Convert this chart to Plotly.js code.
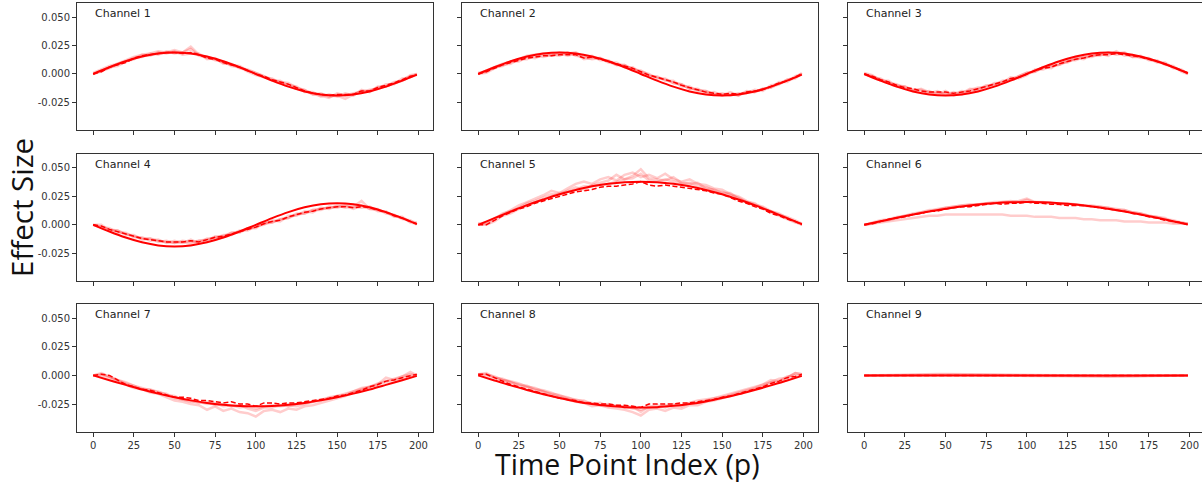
<!DOCTYPE html>
<html><head><meta charset="utf-8">
<script src="https://cdn.plot.ly/plotly-3.0.1.min.js"></script>
<style>html,body{margin:0;padding:0;background:#fff}#chart{width:1202px;height:483px}</style>
</head><body><div id="chart"></div>
<script>
// ---- data ----
const TIME_POINTS = [0,5,10,15,20,25,30,35,40,45,50,55,60,65,70,75,80,85,90,95,100,105,110,115,120,125,130,135,140,145,150,155,160,165,170,175,180,185,190,195,199];
const TIME_POINTS_TRUE = [0,10,20,30,40,50,60,70,80,90,100,110,120,130,140,150,160,170,180,190,199];
const CHANNEL_LABELS = ["Channel 1","Channel 2","Channel 3","Channel 4","Channel 5","Channel 6","Channel 7","Channel 8","Channel 9"];
const X_TICK_VALUES = [0,25,50,75,100,125,150,175,200];
const X_TICK_LABELS = ["0","25","50","75","100","125","150","175","200"];
const Y_TICK_VALUES = [-0.025,0,0.025,0.05];
const Y_TICK_LABELS = ["-0.025","0.000","0.025","0.050"];

const CH1_TRUE = [0,0.0059,0.0112,0.0154,0.0181,0.0190,0.0181,0.0154,0.0112,0.0059,0,-0.0059,-0.0112,-0.0154,-0.0181,-0.0190,-0.0181,-0.0154,-0.0112,-0.0059,-0.0006];
const CH1_MEAN = [0.000,0.002,0.006,0.008,0.010,0.014,0.016,0.017,0.018,0.019,
  0.019,0.018,0.019,0.017,0.014,0.013,0.010,0.008,0.006,0.003,
  0.000,-0.002,-0.005,-0.007,-0.009,-0.012,-0.015,-0.017,-0.018,-0.019,
  -0.018,-0.018,-0.018,-0.015,-0.015,-0.012,-0.010,-0.008,-0.005,-0.002,-0.001];
const CH1_RUN_A = [0.001,0.004,0.007,0.009,0.012,0.015,0.017,0.018,0.020,0.019,
  0.021,0.019,0.022,0.016,0.015,0.012,0.011,0.007,0.006,0.002,
  -0.001,-0.003,-0.004,-0.008,-0.010,-0.013,-0.014,-0.018,-0.019,-0.021,
  -0.017,-0.019,-0.017,-0.016,-0.014,-0.013,-0.009,-0.009,-0.004,-0.003,0.000];
const CH1_RUN_B = [0.000,0.003,0.005,0.009,0.011,0.013,0.017,0.016,0.019,0.018,
  0.020,0.017,0.018,0.018,0.013,0.014,0.009,0.009,0.005,0.004,
  0.001,-0.002,-0.006,-0.006,-0.010,-0.011,-0.016,-0.016,-0.020,-0.018,
  -0.020,-0.017,-0.019,-0.014,-0.016,-0.011,-0.011,-0.007,-0.006,-0.001,0.000];
const CH1_RUN_C = [0.000,0.002,0.006,0.007,0.011,0.014,0.015,0.018,0.017,0.020,
  0.018,0.019,0.024,0.017,0.014,0.013,0.010,0.008,0.007,0.003,
  0.001,-0.002,-0.005,-0.007,-0.008,-0.012,-0.014,-0.018,-0.017,-0.020,
  -0.019,-0.022,-0.018,-0.015,-0.015,-0.012,-0.011,-0.008,-0.006,-0.002,-0.001];

const CH2_TRUE = [0,0.0059,0.0112,0.0154,0.0181,0.0190,0.0181,0.0154,0.0112,0.0059,0,-0.0059,-0.0112,-0.0154,-0.0181,-0.0190,-0.0181,-0.0154,-0.0112,-0.0059,-0.0006];
const CH2_MEAN = [0.000,0.002,0.005,0.008,0.010,0.012,0.014,0.015,0.016,0.016,
  0.017,0.017,0.017,0.014,0.015,0.013,0.011,0.009,0.007,0.005,
  0.002,-0.001,-0.003,-0.005,-0.007,-0.010,-0.012,-0.014,-0.016,-0.017,
  -0.018,-0.017,-0.018,-0.016,-0.015,-0.014,-0.011,-0.008,-0.006,-0.003,0.000];
const CH2_RUN_A = [0.000,0.003,0.006,0.009,0.011,0.013,0.016,0.017,0.018,0.017,
  0.019,0.018,0.019,0.015,0.016,0.012,0.012,0.008,0.008,0.004,
  0.002,0.000,-0.004,-0.004,-0.008,-0.009,-0.013,-0.013,-0.017,-0.016,
  -0.019,-0.016,-0.019,-0.015,-0.016,-0.013,-0.012,-0.007,-0.007,-0.002,0.000];
const CH2_RUN_B = [0.001,0.002,0.006,0.007,0.011,0.011,0.015,0.014,0.017,0.016,
  0.018,0.016,0.018,0.013,0.014,0.014,0.010,0.010,0.006,0.006,
  0.001,-0.002,-0.002,-0.006,-0.006,-0.011,-0.011,-0.015,-0.015,-0.018,
  -0.017,-0.019,-0.017,-0.017,-0.014,-0.015,-0.010,-0.009,-0.005,-0.004,0.001];
const CH2_RUN_C = [0.000,0.001,0.005,0.008,0.009,0.013,0.013,0.016,0.015,0.017,
  0.016,0.019,0.016,0.015,0.013,0.014,0.011,0.008,0.008,0.004,
  0.003,-0.001,-0.003,-0.005,-0.008,-0.009,-0.013,-0.014,-0.015,-0.018,
  -0.018,-0.018,-0.019,-0.016,-0.016,-0.013,-0.012,-0.009,-0.005,-0.003,0.000];

const CH3_TRUE = [0,-0.0059,-0.0112,-0.0154,-0.0181,-0.0190,-0.0181,-0.0154,-0.0112,-0.0059,0,0.0059,0.0112,0.0154,0.0181,0.0190,0.0181,0.0154,0.0112,0.0059,0.0006];
const CH3_MEAN = [0.000,-0.002,-0.005,-0.007,-0.010,-0.012,-0.013,-0.015,-0.016,-0.016,
  -0.016,-0.017,-0.016,-0.015,-0.013,-0.011,-0.009,-0.007,-0.004,-0.003,
  0.000,0.003,0.005,0.006,0.009,0.011,0.013,0.014,0.016,0.017,
  0.017,0.018,0.017,0.016,0.015,0.013,0.011,0.009,0.006,0.003,0.001];
const CH3_RUN_A = [0.000,-0.003,-0.004,-0.008,-0.009,-0.013,-0.014,-0.016,-0.015,-0.018,
  -0.015,-0.019,-0.017,-0.013,-0.014,-0.010,-0.010,-0.006,-0.005,-0.002,
  0.001,0.002,0.006,0.005,0.010,0.010,0.014,0.013,0.017,0.016,
  0.019,0.017,0.018,0.015,0.016,0.012,0.012,0.008,0.007,0.002,0.000];
const CH3_RUN_B = [0.001,-0.001,-0.006,-0.006,-0.011,-0.011,-0.014,-0.014,-0.017,-0.015,
  -0.018,-0.016,-0.018,-0.014,-0.012,-0.012,-0.008,-0.008,-0.003,-0.004,
  -0.001,0.004,0.004,0.007,0.008,0.012,0.012,0.015,0.015,0.018,
  0.016,0.020,0.016,0.017,0.014,0.014,0.010,0.010,0.005,0.004,0.000];
const CH3_RUN_C = [0.000,-0.002,-0.005,-0.008,-0.010,-0.011,-0.015,-0.013,-0.016,-0.017,
  -0.017,-0.018,-0.015,-0.016,-0.013,-0.011,-0.009,-0.007,-0.005,-0.002,
  0.001,0.002,0.006,0.007,0.008,0.011,0.014,0.015,0.016,0.017,
  0.018,0.018,0.019,0.015,0.015,0.013,0.011,0.009,0.006,0.003,0.001];

const CH4_TRUE = [0,-0.0059,-0.0112,-0.0154,-0.0181,-0.0190,-0.0181,-0.0154,-0.0112,-0.0059,0,0.0059,0.0112,0.0154,0.0181,0.0190,0.0181,0.0154,0.0112,0.0059,0.0006];
const CH4_MEAN = [0.000,-0.001,-0.004,-0.006,-0.008,-0.010,-0.012,-0.013,-0.014,-0.015,
  -0.015,-0.015,-0.014,-0.015,-0.013,-0.011,-0.010,-0.008,-0.006,-0.004,
  -0.002,0.001,0.003,0.004,0.007,0.009,0.011,0.012,0.014,0.015,
  0.016,0.016,0.015,0.016,0.015,0.013,0.011,0.008,0.006,0.003,0.001];
const CH4_RUN_A = [0.000,-0.002,-0.003,-0.007,-0.007,-0.011,-0.011,-0.014,-0.013,-0.016,
  -0.014,-0.016,-0.013,-0.016,-0.012,-0.012,-0.009,-0.009,-0.005,-0.005,
  -0.001,0.000,0.004,0.003,0.008,0.008,0.012,0.011,0.015,0.014,
  0.017,0.015,0.016,0.015,0.016,0.012,0.012,0.007,0.007,0.002,0.001];
const CH4_RUN_B = [0.000,0.000,-0.005,-0.005,-0.009,-0.009,-0.013,-0.012,-0.015,-0.014,
  -0.016,-0.014,-0.015,-0.014,-0.014,-0.010,-0.011,-0.007,-0.007,-0.003,
  -0.003,0.002,0.002,0.005,0.006,0.010,0.010,0.013,0.013,0.016,
  0.015,0.017,0.014,0.017,0.014,0.014,0.010,0.009,0.005,0.004,0.000];
const CH4_RUN_C = [0.000,-0.002,-0.004,-0.005,-0.008,-0.010,-0.012,-0.012,-0.014,-0.015,
  -0.016,-0.015,-0.017,-0.014,-0.013,-0.011,-0.010,-0.007,-0.006,-0.003,
  -0.002,0.001,0.002,0.005,0.006,0.009,0.010,0.013,0.014,0.015,
  0.016,0.017,0.016,0.021,0.014,0.013,0.011,0.008,0.006,0.003,0.002];

const CH5_TRUE = [0,0.0059,0.0117,0.0173,0.0223,0.0269,0.0307,0.0339,0.0361,0.0375,0.0380,0.0375,0.0361,0.0339,0.0307,0.0269,0.0223,0.0173,0.0117,0.0059,0.0006];
const CH5_MEAN = [0.000,0.000,0.004,0.008,0.011,0.014,0.016,0.019,0.021,0.023,
  0.025,0.027,0.029,0.030,0.031,0.033,0.034,0.034,0.035,0.036,
  0.038,0.035,0.034,0.035,0.034,0.033,0.032,0.031,0.030,0.028,
  0.027,0.024,0.021,0.019,0.016,0.014,0.010,0.008,0.005,0.003,0.000];
const CH5_RUN_A = [0.001,0.002,0.006,0.009,0.013,0.017,0.020,0.023,0.026,0.030,
  0.028,0.032,0.036,0.038,0.036,0.040,0.042,0.039,0.044,0.046,
  0.042,0.044,0.041,0.045,0.040,0.038,0.040,0.036,0.035,0.032,
  0.031,0.027,0.025,0.021,0.018,0.016,0.012,0.009,0.007,0.004,0.001];
const CH5_RUN_B = [0.000,0.001,0.005,0.010,0.012,0.015,0.019,0.021,0.024,0.027,
  0.026,0.030,0.033,0.031,0.035,0.037,0.039,0.044,0.040,0.043,
  0.049,0.041,0.040,0.039,0.042,0.037,0.036,0.037,0.032,0.031,
  0.028,0.028,0.023,0.020,0.019,0.014,0.012,0.010,0.006,0.003,0.000];
const CH5_RUN_C = [0.001,0.000,0.003,0.008,0.010,0.014,0.017,0.020,0.022,0.025,
  0.028,0.029,0.031,0.034,0.034,0.035,0.036,0.038,0.040,0.041,
  0.045,0.039,0.038,0.040,0.038,0.036,0.037,0.034,0.033,0.030,
  0.029,0.026,0.024,0.020,0.017,0.015,0.011,0.008,0.005,0.002,0.001];

const CH6_TRUE = [0,0.0031,0.0062,0.0091,0.0118,0.0141,0.0162,0.0178,0.0190,0.0198,0.0200,0.0198,0.0190,0.0178,0.0162,0.0141,0.0118,0.0091,0.0062,0.0031,0.0003];
const CH6_MEAN = [0.000,0.001,0.003,0.005,0.006,0.007,0.009,0.010,0.012,0.012,
  0.014,0.015,0.016,0.016,0.017,0.018,0.019,0.018,0.019,0.019,
  0.020,0.019,0.019,0.018,0.018,0.017,0.017,0.017,0.016,0.015,
  0.014,0.013,0.012,0.010,0.009,0.007,0.006,0.004,0.003,0.002,0.000];
const CH6_RUN_A = [0.000,0.002,0.004,0.005,0.007,0.008,0.010,0.011,0.012,0.014,
  0.015,0.016,0.017,0.018,0.018,0.019,0.020,0.020,0.021,0.020,
  0.022,0.020,0.020,0.019,0.019,0.018,0.018,0.017,0.017,0.016,
  0.015,0.014,0.013,0.011,0.010,0.008,0.007,0.005,0.004,0.002,0.001];
const CH6_RUN_B = [0.000,0.001,0.002,0.003,0.004,0.005,0.006,0.007,0.008,0.008,
  0.009,0.009,0.009,0.009,0.009,0.009,0.009,0.009,0.008,0.008,
  0.008,0.007,0.007,0.007,0.006,0.006,0.006,0.005,0.005,0.004,
  0.004,0.004,0.003,0.003,0.003,0.002,0.002,0.002,0.001,0.001,0.001];
const CH6_RUN_C = [0.000,0.001,0.003,0.004,0.006,0.008,0.009,0.011,0.013,0.013,
  0.015,0.016,0.017,0.017,0.018,0.019,0.019,0.020,0.020,0.021,
  0.023,0.020,0.019,0.019,0.018,0.019,0.018,0.017,0.016,0.016,
  0.015,0.013,0.013,0.011,0.010,0.008,0.007,0.006,0.002,0.002,0.001];

const CH7_TRUE = [0,-0.0042,-0.0083,-0.0123,-0.0159,-0.0191,-0.0218,-0.0241,-0.0257,-0.0267,-0.0270,-0.0267,-0.0257,-0.0241,-0.0218,-0.0191,-0.0159,-0.0123,-0.0083,-0.0042,-0.0004];
const CH7_MEAN = [0.000,0.001,0.000,-0.004,-0.008,-0.010,-0.012,-0.013,-0.015,-0.017,
  -0.019,-0.019,-0.020,-0.022,-0.022,-0.023,-0.024,-0.023,-0.025,-0.025,
  -0.027,-0.024,-0.024,-0.025,-0.024,-0.024,-0.023,-0.022,-0.021,-0.020,
  -0.018,-0.017,-0.015,-0.013,-0.010,-0.008,-0.005,-0.004,-0.002,0.000,0.001];
const CH7_RUN_A = [0.000,0.000,-0.002,-0.005,-0.008,-0.011,-0.012,-0.015,-0.016,-0.019,
  -0.022,-0.023,-0.025,-0.026,-0.030,-0.027,-0.031,-0.029,-0.032,-0.033,
  -0.036,-0.031,-0.030,-0.032,-0.029,-0.030,-0.027,-0.026,-0.024,-0.022,
  -0.020,-0.018,-0.015,-0.013,-0.010,-0.008,-0.006,-0.004,-0.003,0.000,0.000];
const CH7_RUN_B = [0.000,0.002,-0.001,-0.004,-0.007,-0.009,-0.011,-0.013,-0.014,-0.017,
  -0.018,-0.021,-0.022,-0.024,-0.023,-0.026,-0.025,-0.027,-0.026,-0.029,
  -0.031,-0.028,-0.028,-0.026,-0.027,-0.025,-0.024,-0.023,-0.021,-0.020,
  -0.018,-0.016,-0.014,-0.012,-0.010,-0.008,-0.002,-0.004,-0.001,0.001,0.000];
const CH7_RUN_C = [0.000,0.001,-0.001,-0.004,-0.006,-0.009,-0.012,-0.012,-0.015,-0.016,
  -0.020,-0.021,-0.023,-0.023,-0.025,-0.024,-0.027,-0.026,-0.028,-0.027,
  -0.029,-0.027,-0.026,-0.027,-0.026,-0.027,-0.025,-0.023,-0.022,-0.019,
  -0.018,-0.017,-0.014,-0.011,-0.010,-0.007,-0.005,-0.003,-0.001,0.003,0.000];

const CH8_TRUE = [0,-0.0044,-0.0087,-0.0127,-0.0165,-0.0198,-0.0227,-0.0250,-0.0266,-0.0277,-0.0280,-0.0277,-0.0266,-0.0250,-0.0227,-0.0198,-0.0165,-0.0127,-0.0087,-0.0044,-0.0004];
const CH8_MEAN = [0.001,0.001,-0.002,-0.005,-0.008,-0.010,-0.012,-0.014,-0.016,-0.018,
  -0.020,-0.021,-0.022,-0.024,-0.024,-0.025,-0.025,-0.026,-0.026,-0.027,
  -0.028,-0.025,-0.025,-0.025,-0.025,-0.024,-0.024,-0.023,-0.022,-0.021,
  -0.019,-0.018,-0.016,-0.014,-0.012,-0.010,-0.007,-0.005,-0.002,-0.001,0.001];
const CH8_RUN_A = [0.001,0.002,-0.002,-0.004,-0.006,-0.009,-0.010,-0.013,-0.014,-0.017,
  -0.019,-0.021,-0.023,-0.024,-0.027,-0.026,-0.028,-0.029,-0.030,-0.032,
  -0.035,-0.030,-0.029,-0.031,-0.028,-0.029,-0.026,-0.026,-0.023,-0.022,
  -0.020,-0.018,-0.016,-0.014,-0.012,-0.010,-0.006,-0.006,-0.002,0.002,0.001];
const CH8_RUN_B = [0.000,0.000,-0.002,-0.003,-0.006,-0.008,-0.009,-0.012,-0.013,-0.015,
  -0.018,-0.019,-0.022,-0.022,-0.025,-0.024,-0.027,-0.026,-0.028,-0.027,
  -0.032,-0.027,-0.028,-0.026,-0.027,-0.026,-0.024,-0.024,-0.022,-0.020,
  -0.019,-0.017,-0.015,-0.013,-0.011,-0.008,-0.004,-0.005,-0.001,0.000,0.000];
const CH8_RUN_C = [0.001,0.001,-0.001,-0.004,-0.005,-0.007,-0.010,-0.011,-0.014,-0.016,
  -0.017,-0.020,-0.021,-0.023,-0.024,-0.026,-0.025,-0.027,-0.027,-0.029,
  -0.030,-0.028,-0.026,-0.028,-0.025,-0.027,-0.024,-0.022,-0.021,-0.020,
  -0.018,-0.016,-0.014,-0.012,-0.010,-0.008,-0.006,-0.003,-0.002,0.002,0.001];

const CH9_TRUE = [0,0,0,0,0,0,0,0,0,0,0,0,0,0,0,0,0,0,0,0,0];
const CH9_MEAN = [0,0,0,0.0002,0.0003,0.0004,0.0005,0.0005,0.0005,0.0006,
  0.0006,0.0005,0.0005,0.0005,0.0004,0.0003,0.0002,0.0001,0,-0.0001,
  -0.0001,-0.0002,-0.0003,-0.0003,-0.0004,-0.0004,-0.0005,-0.0005,-0.0005,-0.0006,
  -0.0006,-0.0005,-0.0005,-0.0004,-0.0004,-0.0003,-0.0002,-0.0001,0,0,0];
const CH9_RUN_A = [0,0.0002,0.0004,0.0006,0.0008,0.0009,0.0010,0.0011,0.0012,0.0012,
  0.0013,0.0012,0.0012,0.0011,0.0010,0.0009,0.0008,0.0006,0.0005,0.0004,
  0.0003,0.0002,0,-0.0001,-0.0002,-0.0003,-0.0004,-0.0005,-0.0005,-0.0006,
  -0.0006,-0.0006,-0.0005,-0.0005,-0.0004,-0.0003,-0.0002,-0.0001,0,0,0];
const CH9_RUN_B = [0,-0.0001,0,0.0001,0.0002,0.0002,0.0003,0.0003,0.0003,0.0003,
  0.0003,0.0003,0.0002,0.0002,0.0001,0,-0.0001,-0.0002,-0.0003,-0.0004,
  -0.0005,-0.0006,-0.0007,-0.0008,-0.0008,-0.0009,-0.0009,-0.0010,-0.0010,-0.0010,
  -0.0010,-0.0009,-0.0008,-0.0008,-0.0007,-0.0006,-0.0004,-0.0003,-0.0002,-0.0001,0];
const CH9_RUN_C = [0,0.0001,0.0002,0.0003,0.0004,0.0005,0.0006,0.0006,0.0007,0.0007,
  0.0007,0.0006,0.0006,0.0005,0.0004,0.0003,0.0002,0.0001,0,-0.0001,
  -0.0002,-0.0003,-0.0004,-0.0004,-0.0005,-0.0006,-0.0006,-0.0007,-0.0007,-0.0007,
  -0.0007,-0.0006,-0.0006,-0.0005,-0.0004,-0.0003,-0.0002,-0.0001,0,0,0];

// ---- build ----
const CHANNELS = [
  {truth:CH1_TRUE, mean:CH1_MEAN, runs:[CH1_RUN_A,CH1_RUN_B,CH1_RUN_C]},
  {truth:CH2_TRUE, mean:CH2_MEAN, runs:[CH2_RUN_A,CH2_RUN_B,CH2_RUN_C]},
  {truth:CH3_TRUE, mean:CH3_MEAN, runs:[CH3_RUN_A,CH3_RUN_B,CH3_RUN_C]},
  {truth:CH4_TRUE, mean:CH4_MEAN, runs:[CH4_RUN_A,CH4_RUN_B,CH4_RUN_C]},
  {truth:CH5_TRUE, mean:CH5_MEAN, runs:[CH5_RUN_A,CH5_RUN_B,CH5_RUN_C]},
  {truth:CH6_TRUE, mean:CH6_MEAN, runs:[CH6_RUN_A,CH6_RUN_B,CH6_RUN_C]},
  {truth:CH7_TRUE, mean:CH7_MEAN, runs:[CH7_RUN_A,CH7_RUN_B,CH7_RUN_C]},
  {truth:CH8_TRUE, mean:CH8_MEAN, runs:[CH8_RUN_A,CH8_RUN_B,CH8_RUN_C]},
  {truth:CH9_TRUE, mean:CH9_MEAN, runs:[CH9_RUN_A,CH9_RUN_B,CH9_RUN_C]}
];

const W = 1202, H = 483;
const COL_PX = [[77,433],[462,818],[848,1202]];
const ROW_PX = [[3.3,130],[154,281],[304,432]];
const X_RANGE = [-9.95, 208.95];
const X_RANGE_LAST = [-9.95, 207.7];
const Y_RANGE = [-0.0494, 0.0623];

const traces = [];
const layout = {
  width: W, height: H,
  margin: {l:0, r:0, t:0, b:0},
  paper_bgcolor: '#fff', plot_bgcolor: '#fff',
  showlegend: false,
  annotations: [],
  font: {family: 'DejaVu Sans', color: '#333'}
};

CHANNELS.forEach((ch, i) => {
  const row = Math.floor(i / 3), col = i % 3;
  const sfx = i === 0 ? '' : String(i + 1);
  const xa = 'x' + sfx, ya = 'y' + sfx;
  ch.runs.forEach(r => traces.push({
    type: 'scatter', mode: 'lines', x: TIME_POINTS, y: r, xaxis: xa, yaxis: ya,
    line: {color: 'rgba(255,0,0,0.2)', width: 2.5}, hoverinfo: 'skip'
  }));
  traces.push({
    type: 'scatter', mode: 'lines', x: TIME_POINTS_TRUE, y: ch.truth, xaxis: xa, yaxis: ya,
    line: {color: '#ff0000', width: 2, shape: 'spline'}
  });
  traces.push({
    type: 'scatter', mode: 'lines', x: TIME_POINTS, y: ch.mean, xaxis: xa, yaxis: ya,
    line: {color: '#ff0000', width: 1.5, dash: '5px,2.5px'}
  });
  const common = {
    showgrid: false, zeroline: false, showline: true, linecolor: '#333', linewidth: 1,
    mirror: true, ticks: 'outside', ticklen: 4, tickcolor: '#333', tickwidth: 1,
    tickfont: {family: 'DejaVu Sans', size: 10, color: '#333'}, fixedrange: true
  };
  layout['xaxis' + sfx] = Object.assign({}, common, {
    domain: [COL_PX[col][0] / W, COL_PX[col][1] / W],
    range: col === 2 ? X_RANGE_LAST : X_RANGE,
    anchor: ya, tickmode: 'array', tickvals: X_TICK_VALUES, ticktext: X_TICK_LABELS,
    showticklabels: row === 2
  });
  layout['yaxis' + sfx] = Object.assign({}, common, {
    domain: [1 - ROW_PX[row][1] / H, 1 - ROW_PX[row][0] / H],
    range: Y_RANGE, anchor: xa, tickmode: 'array', tickvals: Y_TICK_VALUES, ticktext: Y_TICK_LABELS,
    showticklabels: col === 0
  });
  layout.annotations.push({
    xref: xa + ' domain', yref: ya + ' domain', x: 0.045, y: 0.92,
    xanchor: 'left', yanchor: 'middle', showarrow: false, text: CHANNEL_LABELS[i],
    font: {family: 'DejaVu Sans', size: 11, color: '#222'}
  });
});

layout.annotations.push({
  xref: 'paper', yref: 'paper', x: 21 / W, y: 1 - 208 / H, textangle: -90,
  xanchor: 'center', yanchor: 'middle', showarrow: false, text: 'Effect Size',
  font: {family: 'Open Sans', size: 29.5, color: '#111'}
});
layout.annotations.push({
  xref: 'paper', yref: 'paper', x: 627 / W, y: 1 - 464 / H,
  xanchor: 'center', yanchor: 'middle', showarrow: false, text: 'Time Point Index (p)',
  font: {family: 'Open Sans', size: 28.5, color: '#111'}
});

Plotly.newPlot('chart', traces, layout, {displayModeBar: false, staticPlot: true});
</script></body></html>
